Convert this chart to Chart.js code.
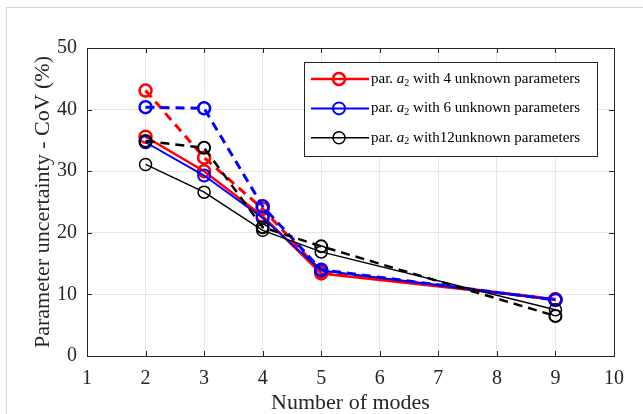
<!DOCTYPE html>
<html>
<head>
<meta charset="utf-8">
<script src="https://cdn.jsdelivr.net/npm/chart.js@4.4.1/dist/chart.umd.min.js"></script>
<style>
	html, body { margin: 0; padding: 0; background: #fff; }
	#wrap { position: relative; width: 643px; height: 414px; overflow: hidden; }
	#frame { position: absolute; left: 6px; top: 7px; width: 700px; height: 500px;
		border-left: 1px solid #d4d4d4; border-top: 1px solid #d4d4d4; pointer-events: none; }
	canvas { position: absolute; left: 0; top: 0; }
</style>
</head>
<body>
<div id="wrap">
	<canvas id="myChart" width="643" height="414"></canvas>
	<div id="frame"></div>
</div>
<script>
'use strict';

// *** Data ***
const modes = [2, 3, 4, 5, 9];
const unknownParams = ['4', '6', '12'];
const red4Solid = [35.6, 30.0, 22.7, 13.4, 9.2];
const red4Dashed = [43.1, 32.2, 23.9, 13.7, 9.2];
const blue6Solid = [34.7, 29.3, 22.4, 13.9, 9.1];
const blue6Dashed = [40.4, 40.2, 24.3, 14.0, 9.1];
const black12Solid = [31.1, 26.6, 20.4, 16.9, 7.5];
const black12Dashed = [34.9, 33.8, 20.9, 17.8, 6.5];
const xTickMin = 1, xTickMax = 10;
const yTickMin = 0, yTickMax = 50;

const FONT = "'Liberation Serif', 'Times New Roman', serif";

function toPoints(aryY) {
	return modes.map((m, i) => ({ x: m, y: aryY[i] }));
}

function makeDataSet(_label, _color, _values, _width, _dashed, _order) {
	return {
		label: _label,
		data: toPoints(_values),
		borderColor: _color,
		backgroundColor: 'rgba(0,0,0,0)',
		pointBorderColor: _color,
		pointBackgroundColor: 'rgba(0,0,0,0)',
		borderWidth: _width,
		pointBorderWidth: _dashed ? _width - 0.5 : _width,
		pointRadius: 6,
		pointHoverRadius: 6,
		borderDash: _dashed ? [9, 6] : [],
		tension: 0,
		order: _order,
	};
}

function prepareDataSets() {
	const aryDataSets = [];
	aryDataSets.push(makeDataSet('par. a2 with 4 unknown parameters', '#ff0000', red4Solid, 2.5, false, 6));
	aryDataSets.push(makeDataSet('', '#ff0000', red4Dashed, 3, true, 5));
	aryDataSets.push(makeDataSet('par. a2 with 6 unknown parameters', '#0000ff', blue6Solid, 2, false, 4));
	aryDataSets.push(makeDataSet('', '#0000ff', blue6Dashed, 3, true, 3));
	aryDataSets.push(makeDataSet('par. a2 with 12 unknown parameters', '#000000', black12Solid, 1.5, false, 2));
	aryDataSets.push(makeDataSet('', '#000000', black12Dashed, 2.5, true, 1));
	return aryDataSets;
}

// box, inner ticks and the MATLAB-like legend
const boxPlugin = {
	id: 'boxPlugin',
	afterDraw(chart) {
		const ctx = chart.ctx;
		const a = chart.chartArea;
		const sx = chart.scales.x, sy = chart.scales.y;
		ctx.save();
		ctx.strokeStyle = '#262626';
		ctx.lineWidth = 1;
		ctx.beginPath();
		sx.ticks.forEach((t) => {
			const px = Math.round(sx.getPixelForValue(t.value)) + 0.5;
			ctx.moveTo(px, a.bottom); ctx.lineTo(px, a.bottom - 5);
			ctx.moveTo(px, a.top); ctx.lineTo(px, a.top + 5);
		});
		sy.ticks.forEach((t) => {
			const py = Math.round(sy.getPixelForValue(t.value)) + 0.5;
			ctx.moveTo(a.left, py); ctx.lineTo(a.left + 5, py);
			ctx.moveTo(a.right, py); ctx.lineTo(a.right - 5, py);
		});
		ctx.stroke();
		ctx.strokeRect(Math.round(a.left) + 0.5, Math.round(a.top) + 0.5,
			Math.round(a.right - a.left), Math.round(a.bottom - a.top));

		// legend
		const lx = 304, ly = 62, lw = 293, lh = 94;
		ctx.fillStyle = '#fff';
		ctx.fillRect(lx, ly, lw, lh);
		ctx.strokeStyle = '#262626';
		ctx.strokeRect(lx + 0.5, ly + 0.5, lw, lh);
		const solidSets = chart.data.datasets.filter((d) => d.label !== '');
		solidSets.forEach((d, i) => {
			const y = 79 + i * 29.4;
			ctx.strokeStyle = d.borderColor;
			ctx.lineWidth = d.borderWidth;
			ctx.setLineDash([]);
			ctx.beginPath();
			ctx.moveTo(311, y); ctx.lineTo(369, y);
			ctx.stroke();
			ctx.beginPath();
			ctx.arc(339, y, 6, 0, Math.PI * 2);
			ctx.stroke();
			ctx.fillStyle = '#000';
			ctx.textBaseline = 'middle';
			ctx.textAlign = 'left';
			let x = 371;
			ctx.font = '15px ' + FONT;
			ctx.fillText('par. ', x, y);
			x += ctx.measureText('par. ').width;
			ctx.font = 'italic 15px ' + FONT;
			ctx.fillText('a', x, y);
			x += ctx.measureText('a').width;
			ctx.font = '10px ' + FONT;
			ctx.fillText('2', x, y + 4);
			x += ctx.measureText('2').width;
			ctx.font = '15px ' + FONT;
			const n = unknownParams[i];
			const rest = n.length > 1 ? ' with' + n + 'unknown parameters' : ' with ' + n + ' unknown parameters';
			ctx.fillText(rest, x, y);
		});
		ctx.restore();
	},
};

function prepareOptions() {
	return {
		responsive: false,
		animation: false,
		devicePixelRatio: 1,
		layout: { padding: { left: 0, top: 48, right: 29, bottom: 0 } },
		plugins: {
			legend: { display: false },
			tooltip: { enabled: false },
		},
		scales: {
			x: {
				type: 'linear',
				min: xTickMin,
				max: xTickMax,
				afterFit: (s) => { s.height = 58; },
				ticks: { stepSize: 1, padding: 11, color: '#262626', font: { family: FONT, size: 20 } },
				grid: { color: '#e6e6e6', drawTicks: false },
				border: { color: '#262626' },
				title: {
					display: true,
					text: 'Number of modes',
					color: '#262626',
					font: { family: FONT, size: 22, lineHeight: 1 },
					padding: { top: 0, bottom: 0 },
				},
			},
			y: {
				type: 'linear',
				min: yTickMin,
				max: yTickMax,
				afterFit: (s) => { s.width = 87; },
				ticks: { stepSize: 10, padding: 10, color: '#262626', font: { family: FONT, size: 20 } },
				grid: { color: '#e6e6e6', drawTicks: false },
				border: { color: '#262626' },
				title: {
					display: true,
					text: 'Parameter uncertainty - CoV (%)',
					color: '#262626',
					font: { family: FONT, size: 22, lineHeight: 1 },
					padding: { top: 32, bottom: 0 },
				},
			},
		},
	};
}

function chartIt() {
	const config = {
		type: 'line',
		data: { datasets: prepareDataSets() },
		options: prepareOptions(),
		plugins: [boxPlugin],
	};
	return new Chart(document.getElementById('myChart'), config);
}

// *** Entry Point ***
const myChart = chartIt();
</script>
</body>
</html>
